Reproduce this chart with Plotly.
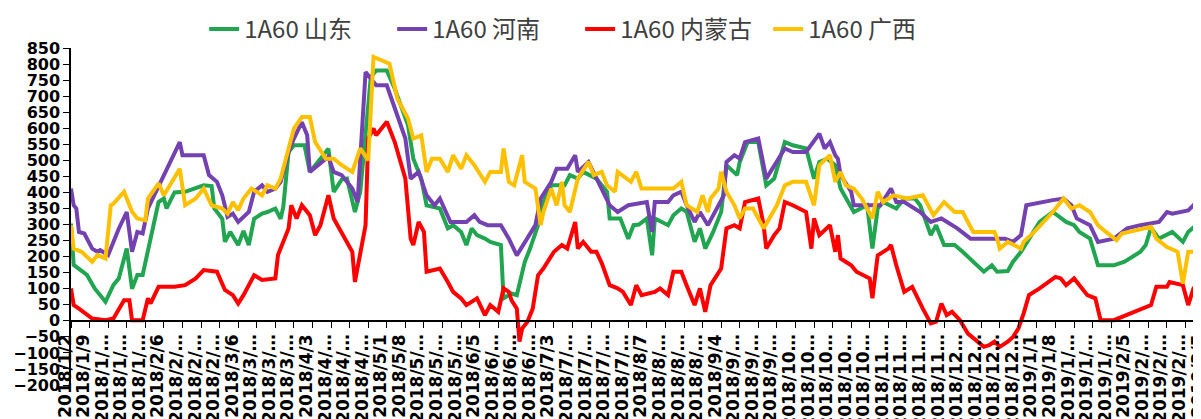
import pandas as pd
import plotly.graph_objects as go

# ---------------- data ----------------
sd_dates = ["2018-01-02","2018-01-03","2018-01-08","2018-01-11","2018-01-15","2018-01-18","2018-01-20","2018-01-23","2018-01-25","2018-01-27","2018-01-29","2018-01-31",
            "2018-02-04","2018-02-06","2018-02-07","2018-02-10","2018-02-14","2018-02-21","2018-02-24","2018-02-25","2018-02-28",
            "2018-03-01","2018-03-03","2018-03-06","2018-03-08","2018-03-10","2018-03-12","2018-03-15","2018-03-17","2018-03-20","2018-03-22","2018-03-23","2018-03-25","2018-03-27","2018-03-31",
            "2018-04-02","2018-04-05","2018-04-09","2018-04-11","2018-04-14","2018-04-16","2018-04-19","2018-04-21","2018-04-23","2018-04-25","2018-04-27",
            "2018-05-01","2018-05-04","2018-05-09","2018-05-11","2018-05-14","2018-05-16","2018-05-21","2018-05-24","2018-05-26","2018-05-29","2018-05-31",
            "2018-06-02","2018-06-04","2018-06-07","2018-06-09","2018-06-13","2018-06-14","2018-06-17","2018-06-19","2018-06-22","2018-06-24","2018-06-27","2018-06-29",
            "2018-07-02","2018-07-07","2018-07-09","2018-07-12","2018-07-14","2018-07-19","2018-07-23","2018-07-24","2018-07-28","2018-07-31",
            "2018-08-02","2018-08-04","2018-08-07","2018-08-09","2018-08-10","2018-08-15","2018-08-17","2018-08-20","2018-08-22","2018-08-25","2018-08-27","2018-08-29",
            "2018-09-01","2018-09-04","2018-09-06","2018-09-10","2018-09-11","2018-09-14","2018-09-18","2018-09-20","2018-09-21","2018-09-24","2018-09-28",
            "2018-10-01","2018-10-06","2018-10-09","2018-10-11","2018-10-14","2018-10-17","2018-10-19","2018-10-22","2018-10-24","2018-10-29","2018-10-31",
            "2018-11-02","2018-11-04","2018-11-09","2018-11-12","2018-11-16","2018-11-18","2018-11-22","2018-11-24","2018-11-27",
            "2018-12-01","2018-12-04","2018-12-08","2018-12-12","2018-12-15","2018-12-17","2018-12-21","2018-12-23","2018-12-26",
            "2019-01-02","2019-01-07","2019-01-12","2019-01-15","2019-01-17","2019-01-21","2019-01-24","2019-01-30",
            "2019-02-03","2019-02-09","2019-02-11","2019-02-13","2019-02-16","2019-02-21","2019-02-25","2019-02-27","2019-03-02","2019-03-05"]
sd_vals = [303,174,143,100,59,112,132,225,100,143,143,215,
           370,381,350,400,402,422,420,350,318,
           246,277,236,280,236,318,334,339,350,318,355,526,547,547,
           464,495,536,402,440,443,339,402,598,760,780,
           780,723,609,505,443,360,350,288,298,277,236,
           288,267,256,246,236,70,85,80,184,225,298,370,
           422,422,454,443,464,443,402,319,319,256,
           298,300,319,204,319,298,329,350,340,246,288,225,
           277,339,485,454,495,557,557,474,422,443,557,
           547,537,443,495,505,485,412,370,339,360,225,
           350,370,350,381,381,360,267,298,236,
           236,215,184,153,173,153,155,184,215,
           308,339,308,298,277,256,173,173,
           184,215,236,290,256,277,246,277,298,334]

hn_dates = ["2018-01-02","2018-01-03","2018-01-04","2018-01-05","2018-01-07","2018-01-10","2018-01-12","2018-01-13","2018-01-16","2018-01-18","2018-01-20","2018-01-23","2018-01-24","2018-01-25","2018-01-27","2018-01-29","2018-01-31",
            "2018-02-06","2018-02-09","2018-02-12","2018-02-13","2018-02-21","2018-02-23","2018-02-26","2018-02-28",
            "2018-03-02","2018-03-04","2018-03-06","2018-03-10","2018-03-12","2018-03-15","2018-03-17","2018-03-20","2018-03-22","2018-03-25","2018-03-27","2018-03-30",
            "2018-04-01","2018-04-02","2018-04-05","2018-04-09","2018-04-11","2018-04-14","2018-04-18","2018-04-20","2018-04-23","2018-04-27",
            "2018-05-01","2018-05-04","2018-05-08","2018-05-10","2018-05-13","2018-05-16","2018-05-19","2018-05-21","2018-05-25","2018-05-31",
            "2018-06-03","2018-06-05","2018-06-08","2018-06-13","2018-06-16","2018-06-19","2018-06-26","2018-06-28",
            "2018-07-02","2018-07-04","2018-07-08","2018-07-11","2018-07-12","2018-07-16","2018-07-19","2018-07-24","2018-07-27","2018-07-31",
            "2018-08-07","2018-08-09","2018-08-10","2018-08-15","2018-08-17","2018-08-20","2018-08-22","2018-08-25","2018-08-27","2018-08-30",
            "2018-09-05","2018-09-06","2018-09-09","2018-09-11","2018-09-13","2018-09-18","2018-09-20","2018-09-21","2018-09-28",
            "2018-10-01","2018-10-06","2018-10-11","2018-10-13","2018-10-15","2018-10-17","2018-10-18","2018-10-19","2018-10-23","2018-10-24","2018-10-30",
            "2018-11-03","2018-11-07","2018-11-09","2018-11-12","2018-11-14","2018-11-18","2018-11-22","2018-11-26",
            "2018-12-02","2018-12-07","2018-12-20","2018-12-23","2018-12-26","2018-12-28",
            "2019-01-07","2019-01-11","2019-01-14","2019-01-16","2019-01-21","2019-01-24","2019-01-30",
            "2019-02-04","2019-02-09","2019-02-13","2019-02-16","2019-02-19","2019-02-21","2019-02-27","2019-03-01","2019-03-03","2019-03-05"]
hn_vals = [412,360,350,277,272,225,215,220,205,246,287,339,277,215,277,272,350,
           454,505,557,516,516,454,433,391,
           324,334,308,339,402,422,402,412,433,526,568,619,
           578,464,485,511,464,454,412,370,775,734,
           734,661,568,443,464,391,360,381,308,308,
           329,308,298,298,256,204,298,381,
           433,474,474,516,464,495,443,360,339,360,
           370,277,370,370,391,402,360,308,339,298,
           391,495,516,505,557,568,485,443,537,
           526,526,583,537,557,516,505,454,402,360,360,
           360,412,370,370,360,339,308,319,
           288,256,256,246,267,360,
           376,381,360,319,298,246,256,
           288,298,303,308,339,334,344,360,381,391]

nmg_dates = ["2018-01-02","2018-01-03","2018-01-05","2018-01-10","2018-01-15","2018-01-18","2018-01-22","2018-01-24","2018-01-25","2018-01-29","2018-01-31",
             "2018-02-01","2018-02-04","2018-02-10","2018-02-14","2018-02-18","2018-02-21","2018-02-26",
             "2018-03-01","2018-03-04","2018-03-06","2018-03-08","2018-03-12","2018-03-15","2018-03-20","2018-03-21","2018-03-25","2018-03-26","2018-03-28","2018-03-30",
             "2018-04-02","2018-04-04","2018-04-06","2018-04-09","2018-04-11","2018-04-13","2018-04-15","2018-04-18","2018-04-19","2018-04-23","2018-04-24","2018-04-26","2018-04-27",
             "2018-05-01","2018-05-04","2018-05-08","2018-05-10","2018-05-11","2018-05-13","2018-05-15","2018-05-16","2018-05-21","2018-05-24","2018-05-26","2018-05-29","2018-05-31",
             "2018-06-04","2018-06-07","2018-06-09","2018-06-12","2018-06-14","2018-06-16","2018-06-17","2018-06-19","2018-06-20","2018-06-21","2018-06-23","2018-06-25","2018-06-27","2018-06-29",
             "2018-07-03","2018-07-06","2018-07-08","2018-07-11","2018-07-12","2018-07-14","2018-07-17","2018-07-19","2018-07-21","2018-07-24","2018-07-27","2018-07-29",
             "2018-08-01","2018-08-03","2018-08-05","2018-08-10","2018-08-12","2018-08-15","2018-08-17","2018-08-20","2018-08-22","2018-08-25","2018-08-27","2018-08-29","2018-08-31",
             "2018-09-04","2018-09-06","2018-09-09","2018-09-11","2018-09-13","2018-09-18","2018-09-20","2018-09-21","2018-09-24","2018-09-26","2018-09-28",
             "2018-10-01","2018-10-06","2018-10-08","2018-10-09","2018-10-11","2018-10-15","2018-10-17","2018-10-18","2018-10-19","2018-10-23","2018-10-25","2018-10-30","2018-10-31",
             "2018-11-02","2018-11-06","2018-11-07","2018-11-09","2018-11-12","2018-11-15","2018-11-17","2018-11-19","2018-11-22","2018-11-24","2018-11-26","2018-11-28","2018-11-30",
             "2018-12-03","2018-12-06","2018-12-09","2018-12-12","2018-12-14","2018-12-16","2018-12-18","2018-12-19","2018-12-21","2018-12-23","2018-12-25","2018-12-27","2018-12-29",
             "2019-01-02","2019-01-08","2019-01-10","2019-01-12","2019-01-15","2019-01-20","2019-01-23","2019-01-25","2019-01-30",
             "2019-02-13","2019-02-15","2019-02-19","2019-02-20","2019-02-25","2019-02-27","2019-03-01","2019-03-03","2019-03-05"]
nmg_vals = [101,49,38,7,2,7,64,64,2,2,70,
            54,106,106,111,132,158,153,
            96,80,54,80,142,127,132,205,288,360,319,360,
            329,267,298,391,319,288,256,215,121,298,568,599,578,
            620,557,443,256,236,308,277,153,163,121,90,70,49,
            70,18,49,28,101,90,64,38,-65,-24,-3,38,142,163,
            215,236,225,308,225,246,215,215,180,111,101,90,
            49,111,80,90,101,80,153,153,110,49,101,28,111,
            163,288,298,288,370,381,298,225,267,288,370,
            360,339,225,319,267,298,215,267,194,173,153,132,70,
            204,225,236,173,90,106,70,38,-8,-3,54,18,28,
            2,-40,-60,-81,-76,-65,-81,-76,-65,-50,-24,23,80,
            101,137,132,111,132,80,70,2,2,
            49,106,106,121,111,49,101,111,150]

gx_dates = ["2018-01-02","2018-01-03","2018-01-06","2018-01-10","2018-01-12","2018-01-15","2018-01-17","2018-01-18","2018-01-22","2018-01-25","2018-01-27","2018-01-30","2018-01-31",
            "2018-02-04","2018-02-06","2018-02-09","2018-02-12","2018-02-14","2018-02-18","2018-02-21","2018-02-24","2018-02-28",
            "2018-03-02","2018-03-04","2018-03-06","2018-03-08","2018-03-11","2018-03-15","2018-03-17","2018-03-20","2018-03-22","2018-03-25","2018-03-27","2018-03-30",
            "2018-04-02","2018-04-04","2018-04-08","2018-04-11","2018-04-14","2018-04-18","2018-04-21","2018-04-24","2018-04-26",
            "2018-05-02","2018-05-05","2018-05-09","2018-05-11","2018-05-14","2018-05-16","2018-05-18","2018-05-21","2018-05-24","2018-05-26","2018-05-29","2018-05-31",
            "2018-06-03","2018-06-07","2018-06-09","2018-06-13","2018-06-14","2018-06-16","2018-06-18","2018-06-21","2018-06-22","2018-06-26","2018-06-28","2018-06-29",
            "2018-07-02","2018-07-04","2018-07-06","2018-07-07","2018-07-09","2018-07-12","2018-07-16","2018-07-18","2018-07-21","2018-07-23","2018-07-26","2018-07-27",
            "2018-08-01","2018-08-03","2018-08-05","2018-08-17","2018-08-20","2018-08-22","2018-08-26","2018-08-28","2018-08-30","2018-08-31",
            "2018-09-03","2018-09-04","2018-09-06","2018-09-09","2018-09-11","2018-09-13","2018-09-16","2018-09-19","2018-09-20","2018-09-25","2018-09-28",
            "2018-10-01","2018-10-06","2018-10-09","2018-10-11","2018-10-15","2018-10-17","2018-10-19","2018-10-21","2018-10-24","2018-10-27","2018-10-31",
            "2018-11-02","2018-11-04","2018-11-08","2018-11-13","2018-11-19","2018-11-23","2018-11-27",
            "2018-12-01","2018-12-04","2018-12-08","2018-12-16","2018-12-17","2018-12-18","2018-12-21","2018-12-26","2018-12-27","2018-12-31",
            "2019-01-07","2019-01-11","2019-01-14","2019-01-17","2019-01-21","2019-01-24","2019-01-27","2019-01-31",
            "2019-02-02","2019-02-13","2019-02-15","2019-02-19","2019-02-23","2019-02-25","2019-02-27","2019-03-02","2019-03-05"]
gx_vals = [298,225,215,184,205,194,360,365,402,340,319,313,381,
           428,391,433,474,360,381,412,360,350,
           334,370,345,381,412,391,422,412,443,537,599,635,
           635,557,505,505,485,464,537,500,822,
           801,692,630,568,578,464,505,505,464,516,474,516,
           485,433,464,464,537,433,422,516,433,412,298,339,
           412,360,433,360,339,443,495,454,464,422,402,464,
           433,464,412,412,433,360,339,391,339,381,
           412,464,402,360,319,350,350,308,288,360,422,
           433,433,360,485,516,433,464,422,412,381,319,
           402,370,391,381,391,329,370,
           339,339,277,277,256,225,246,225,246,277,
           339,381,350,360,339,298,277,251,
           272,293,256,230,215,116,215,215,204]

series_names = ["1A60 山东", "1A60 河南", "1A60 内蒙古", "1A60 广西"]
series_colors = ["#21A550", "#7442B0", "#FF0000", "#FFC000"]

# weekly axis ticks (Tuesdays) and Excel-style truncated labels
tick_dates = pd.date_range("2018-01-02", "2019-03-05", freq="7D")
tick_text = []
for d in tick_dates:
    s = f"{d.year}/{d.month}/{d.day}"
    tick_text.append(s if len(s) <= 8 else s[:7] + "…")

# ---------------- figure ----------------
fig = go.Figure()
for name, color, xs, ys in zip(series_names, series_colors,
                               [sd_dates, hn_dates, nmg_dates, gx_dates],
                               [sd_vals, hn_vals, nmg_vals, gx_vals]):
    fig.add_trace(go.Scatter(x=pd.to_datetime(xs), y=ys, mode="lines", name=name,
                             line=dict(color=color, width=4)))

fig.update_layout(
    width=1201, height=419,
    margin=dict(l=63, r=4, t=40, b=42, autoexpand=False),
    paper_bgcolor="white", plot_bgcolor="white",
    showlegend=True,
    legend=dict(orientation="h", x=0.449, xanchor="center", y=1.055, yanchor="middle",
                font=dict(family="Noto Sans CJK SC", size=24, color="#404040"),
                itemwidth=30, entrywidth=143, entrywidthmode="pixels",
                tracegroupgap=0, bgcolor="rgba(0,0,0,0)"),
    xaxis=dict(type="date", range=["2018-01-02", "2019-03-05 08:00"],
               anchor="free", position=200 / 1050,
               tickmode="array", tickvals=tick_dates, ticktext=tick_text,
               tickangle=-90, ticks="outside", ticklen=6, tickcolor="#000",
               showline=True, linecolor="#000", linewidth=1.5,
               showgrid=False, zeroline=False, automargin=False,
               tickfont=dict(family="DejaVu Sans", size=17, color="#000", weight="bold"),
               ticklabelshift=-6),
    yaxis=dict(range=[-200, 850], dtick=50, tick0=0, ticks="outside", ticklen=6,
               tickcolor="#000", showline=True, linecolor="#000", linewidth=1.5,
               showgrid=False, zeroline=False, automargin=False,
               tickfont=dict(family="DejaVu Sans", size=16, color="#000", weight="bold")),
)

fig.write_html("out.html")
